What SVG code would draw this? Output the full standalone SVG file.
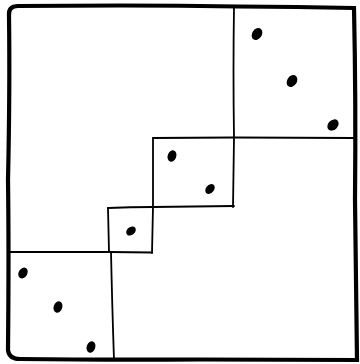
<svg xmlns="http://www.w3.org/2000/svg" width="360" height="364" viewBox="0 0 360 364">
<style>
.outer{fill:none;stroke:#000;stroke-width:4.2;stroke-linecap:round;stroke-linejoin:miter}
.ln{fill:none;stroke:#000;stroke-width:1.8;stroke-linecap:round;stroke-linejoin:round}
.dot{fill:#000}
</style>
<rect width="360" height="364" fill="#fff"/>
<g id="frame">
<path class="outer" d="M 9 16 Q 8 6 18 6 L 120 5.5 Q 240 6 354 8 Q 356 100 355 200 Q 356 290 357 360 L 200 359.5 Q 100 360 20 359 Q 9 359 8 350 Q 9 250 8 180 Q 10 90 9 16 Z"/>
</g>
<g id="lines">
<path class="ln" d="M 234 7 Q 233 70 234 138 L 233 207"/>
<path class="ln" d="M 153 138 L 234 137.5 Q 300 138 354 138"/>
<path class="ln" d="M 153 138 L 153 207 L 152 253"/>
<path class="ln" d="M 108 208 Q 130 207 153 207 L 234 206"/>
<path class="ln" d="M 108 208 L 109 252"/>
<path class="ln" d="M 8 252 L 110 252 L 152 252.5"/>
<path class="ln" d="M 111 252 Q 112 300 114 360"/>
</g>
<g id="block-a">
<ellipse class="dot" cx="257" cy="34" rx="4.8" ry="6.4" transform="rotate(35 257 34)"/>
<ellipse class="dot" cx="292" cy="81" rx="4.8" ry="6.4" transform="rotate(35 292 81)"/>
<ellipse class="dot" cx="333" cy="125" rx="4.8" ry="6.4" transform="rotate(45 333 125)"/>
</g>
<g id="block-b">
<ellipse class="dot" cx="172" cy="156" rx="4.3" ry="5.8" transform="rotate(20 172 156)"/>
<ellipse class="dot" cx="210" cy="189" rx="4" ry="5.6" transform="rotate(40 210 189)"/>
</g>
<g id="block-c">
<ellipse class="dot" cx="131" cy="231" rx="4" ry="5.3" transform="rotate(50 131 231)"/>
</g>
<g id="block-d">
<ellipse class="dot" cx="23" cy="273" rx="4.3" ry="5.8" transform="rotate(30 23 273)"/>
<ellipse class="dot" cx="58" cy="307" rx="4.3" ry="5.8" transform="rotate(20 58 307)"/>
<ellipse class="dot" cx="91" cy="347" rx="4.3" ry="5.8" transform="rotate(20 91 347)"/>
</g>
</svg>
